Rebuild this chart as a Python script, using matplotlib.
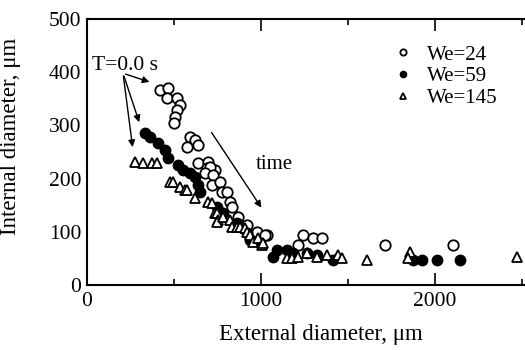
import matplotlib
matplotlib.use("Agg")
import matplotlib.pyplot as plt

# values (external / internal diameter, um)
we24_ext = [420, 465, 460, 517, 534, 517, 506, 500, 592, 621, 575, 638, 638, 695, 690,
            736, 707, 678, 724, 718, 764, 776, 805, 822, 833, 868, 920, 977, 1034, 1023,
            1213, 1241, 1299, 1351, 1713, 2103]
we24_int = [367, 370, 351, 351, 338, 329, 316, 305, 278, 273, 259, 263, 229, 231, 220,
            216, 222, 211, 207, 188, 194, 175, 175, 156, 147, 128, 113, 100, 94, 94,
            75, 94, 88, 88, 75, 75]

we59_ext = [333, 362, 408, 448, 466, 523, 552, 592, 621, 638, 649, 747, 782, 862, 920,
            937, 994, 1069, 1092, 1149, 1184, 1264, 1322, 1414, 1874, 1925, 2011, 2144]
we59_int = [286, 278, 267, 254, 239, 226, 216, 211, 203, 188, 175, 147, 135, 117, 98,
            85, 79, 53, 66, 66, 60, 60, 56, 47, 47, 47, 47, 47]

we145_ext = [276, 322, 374, 402, 477, 494, 534, 563, 575, 621, 695, 718, 736, 747, 753,
             747, 782, 822, 833, 862, 879, 908, 920, 937, 954, 983, 1006, 1011, 1149, 1178,
             1213, 1264, 1322, 1379, 1443, 1466, 1609, 1856, 1845, 2471]
we145_int = [231, 229, 229, 229, 194, 194, 184, 179, 179, 164, 156, 154, 135, 135, 122,
             118, 128, 122, 109, 109, 109, 107, 100, 94, 81, 88, 75, 79, 51, 51,
             53, 60, 53, 56, 56, 51, 47, 62, 51, 53]

plt.rcParams['font.family'] = ['Liberation Serif', 'DejaVu Serif']

fig = plt.figure(figsize=(5.25, 3.5), dpi=100)
ax = fig.add_axes([87 / 525, 1 - 285 / 350, 442 / 525, 266 / 350])

ax.plot(we24_ext, we24_int, 'o', ms=7.5, mfc='white', mec='black', mew=1.3,
        ls='none', label='We=24')
ax.plot(we59_ext, we59_int, 'o', ms=7.5, mfc='black', mec='black', mew=1.0,
        ls='none', label='We=59')
ax.plot(we145_ext, we145_int, '^', ms=7, mfc='white', mec='black', mew=1.3,
        ls='none', label='We=145')

ax.set_xlim(0, 2540)
ax.set_ylim(0, 500)
ax.set_xticks([0, 1000, 2000])
ax.set_xticks([500, 1500, 2500], minor=True)
ax.set_yticks([0, 100, 200, 300, 400, 500])
ax.tick_params(axis='x', which='major', direction='in', top=True, length=8.5,
               width=1.2, labelsize=15.5, pad=5)
ax.tick_params(axis='x', which='minor', direction='in', top=True, length=4.5, width=1.2)
ax.tick_params(axis='y', length=0, labelsize=15.5, pad=4)
ax.spines['right'].set_visible(False)
for s in ['left', 'bottom', 'top']:
    ax.spines[s].set_linewidth(1.5)

ax.set_xlabel('External diameter, μm', fontsize=16.5)
ax.set_ylabel('Internal diameter, μm', fontsize=16.5)
ax.xaxis.set_label_coords(0.53, -0.145)
ax.yaxis.set_label_coords(-0.15, 0.56)

# T=0.0 s annotation with three arrows
ax.text(30, 412, 'T=0.0 s', fontsize=15.5, va='center', ha='left')
arr = dict(arrowstyle='-|>', color='black', lw=1.0, mutation_scale=10)
for tip in [(374, 380), (305, 301), (264, 254)]:
    ax.annotate('', xy=tip, xytext=(207, 398), arrowprops=arr)

ax.annotate('', xy=(1011, 141), xytext=(707, 291), arrowprops=arr)
ax.text(971, 226, 'time', fontsize=15, va='center', ha='left')

ax.legend(loc='upper left', bbox_to_anchor=(392.5 / 525, 1 - 45 / 350),
          bbox_transform=fig.transFigure, frameon=False, fontsize=15,
          markerscale=0.6, handlelength=1.0, handletextpad=0.65,
          labelspacing=0.1, borderpad=0, borderaxespad=0)

fig.savefig('out.png', dpi=100)
